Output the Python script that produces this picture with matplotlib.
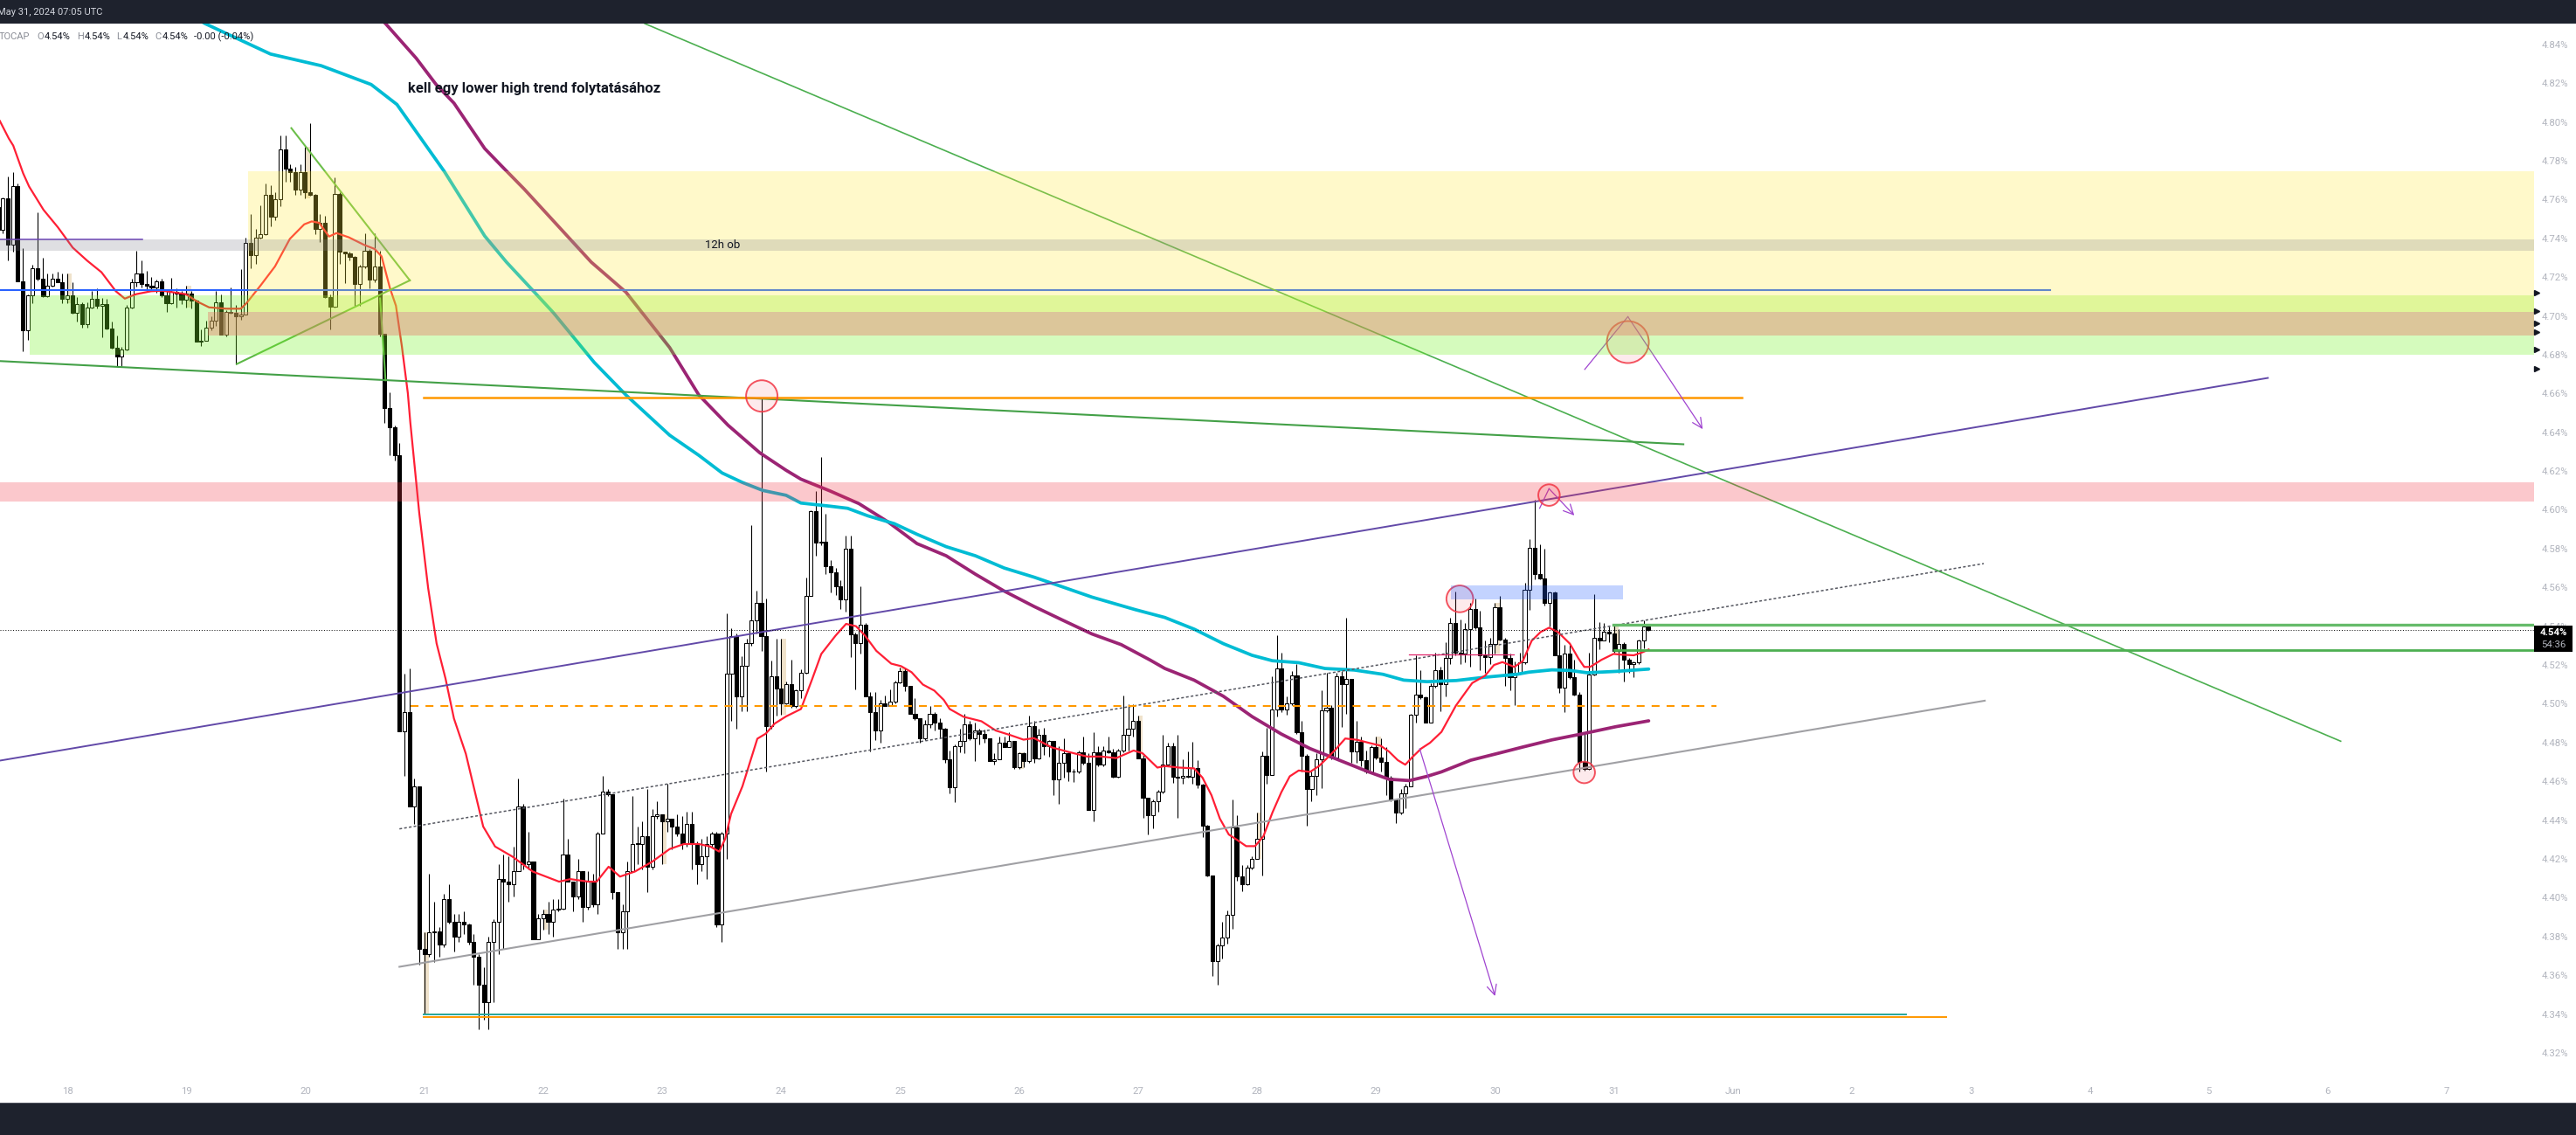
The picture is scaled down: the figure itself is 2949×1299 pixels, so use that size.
import numpy as np
import matplotlib
matplotlib.use("Agg")
import matplotlib.pyplot as plt
from matplotlib.patches import Rectangle
from matplotlib.transforms import blended_transform_factory

plt.rcParams['font.family'] = ['Roboto', 'DejaVu Sans']

W, H = 2949, 1299
DPI = 100

# ---------------------------------------------------------------- data
# hourly candles; hour 0 = May 18 00:00 UTC, first bar at hour -14
first_hour = -14
first_open = 4.7562
close = [
    4.7442, 4.7607, 4.7367, 4.7671, 4.7180, 4.6927, 4.7104, 4.7247, 4.7190, 4.7100, 4.7154, 4.7190,
    4.7175, 4.7089, 4.7104, 4.7014, 4.7062, 4.6959, 4.7041, 4.7089, 4.7052, 4.7062, 4.6936, 4.6837,
    4.6789, 4.6827, 4.7044, 4.7172, 4.7220, 4.7164, 4.7157, 4.7145, 4.7180, 4.7104, 4.7067, 4.7122,
    4.7115, 4.7085, 4.7115, 4.7077, 4.6869, 4.6872, 4.6939, 4.6977, 4.7070, 4.6902, 4.7022, 4.7014,
    4.6996, 4.7007, 4.7375, 4.7315, 4.7405, 4.7420, 4.7625, 4.7513, 4.7603, 4.7858, 4.7761, 4.7740,
    4.7653, 4.7740, 4.7638, 4.7623, 4.7450, 4.7480, 4.7097, 4.7047, 4.7627, 4.7330, 4.7322, 4.7304,
    4.7164, 4.7255, 4.7337, 4.7187, 4.7255, 4.6909, 4.6527, 4.6424, 4.6281, 4.4859, 4.4955, 4.4471,
    4.4574, 4.3734, 4.3708, 4.3824, 4.3826, 4.3760, 4.3992, 4.3876, 4.3798, 4.3876, 4.3863, 4.3773,
    4.3695, 4.3553, 4.3462, 4.3773, 4.3876, 4.4096, 4.4083, 4.4070, 4.4135, 4.4471, 4.4173, 4.4186,
    4.3786, 4.3894, 4.3915, 4.3876, 4.3941, 4.3943, 4.4225, 4.4083, 4.4005, 4.4135, 4.3954, 4.4083,
    4.3967, 4.4329, 4.4548, 4.4535, 4.4031, 4.3824, 4.3928, 4.4135, 4.4277, 4.4279, 4.4316, 4.4160,
    4.4419, 4.4432, 4.4393, 4.4406, 4.4368, 4.4329, 4.4277, 4.4380, 4.4277, 4.4173, 4.4212, 4.4277,
    4.4329, 4.3863, 4.4329, 4.5156, 4.5350, 4.5040, 4.5195, 4.5311, 4.5428, 4.5518, 4.5350, 4.4885,
    4.5143, 4.5080, 4.5004, 4.5099, 4.4989, 4.5068, 4.5159, 4.5558, 4.5992, 4.5830, 4.5834, 4.5708,
    4.5676, 4.5605, 4.5539, 4.5798, 4.5360, 4.5313, 4.5407, 4.5036, 4.4957, 4.4862, 4.5004, 4.4989,
    4.5012, 4.5112, 4.5170, 4.5091, 4.4949, 4.4925, 4.4823, 4.4894, 4.4949, 4.4902, 4.4870, 4.4712,
    4.4570, 4.4783, 4.4807, 4.4894, 4.4823, 4.4862, 4.4846, 4.4823, 4.4704, 4.4712, 4.4799, 4.4775,
    4.4807, 4.4672, 4.4744, 4.4704, 4.4886, 4.4720, 4.4838, 4.4783, 4.4807, 4.4609, 4.4696, 4.4744,
    4.4649, 4.4653, 4.4751, 4.4696, 4.4451, 4.4751, 4.4688, 4.4759, 4.4751, 4.4625, 4.4759, 4.4838,
    4.4870, 4.4910, 4.4720, 4.4514, 4.4427, 4.4498, 4.4546, 4.4688, 4.4783, 4.4625, 4.4617, 4.4626,
    4.4622, 4.4671, 4.4581, 4.4371, 4.4116, 4.3673, 4.3755, 4.3793, 4.3913, 4.4363, 4.4108, 4.4071,
    4.4153, 4.4198, 4.4303, 4.4731, 4.4634, 4.4972, 4.5182, 4.4972, 4.5002, 4.5147, 4.4852, 4.4731,
    4.4559, 4.4626, 4.4716, 4.4964, 4.4979, 4.4724, 4.5144, 4.5099, 4.5129, 4.4754, 4.4806, 4.4709,
    4.4649, 4.4776, 4.4724, 4.4701, 4.4619, 4.4506, 4.4439, 4.4536, 4.4574, 4.4942, 4.5047, 4.5032,
    4.4904, 4.5092, 4.5174, 4.5100, 4.5235, 4.5415, 4.5265, 4.5257, 4.5385, 4.5490, 4.5392, 4.5250,
    4.5242, 4.5310, 4.5498, 4.5332, 4.5235, 4.5137, 4.5160, 4.5212, 4.5588, 4.5805, 4.5670, 4.5648,
    4.5520, 4.5573, 4.5250, 4.5085, 4.5257, 4.5137, 4.5047, 4.4702, 4.4664, 4.5152, 4.5340, 4.5328,
    4.5373, 4.5362, 4.5272, 4.5310, 4.5227, 4.5205, 4.5212, 4.5325, 4.5400, 4.5382,
]
high = [
    4.7600, 4.7610, 4.7720, 4.7743, 4.7683, 4.7348, 4.7112, 4.7262, 4.7535, 4.7300, 4.7217, 4.7220,
    4.7229, 4.7220, 4.7220, 4.7172, 4.7097, 4.7071, 4.7070, 4.7127, 4.7142, 4.7092, 4.7089, 4.6969,
    4.6899, 4.6842, 4.7055, 4.7190, 4.7334, 4.7285, 4.7232, 4.7202, 4.7187, 4.7190, 4.7127, 4.7195,
    4.7142, 4.7127, 4.7157, 4.7127, 4.7082, 4.6932, 4.6977, 4.6999, 4.7127, 4.7112, 4.7029, 4.7145,
    4.7055, 4.7240, 4.7405, 4.7525, 4.7450, 4.7570, 4.7683, 4.7675, 4.7638, 4.7930, 4.7930, 4.7780,
    4.7770, 4.7780, 4.7870, 4.7995, 4.7630, 4.7525, 4.7514, 4.7112, 4.7716, 4.7638, 4.7325, 4.7330,
    4.7307, 4.7262, 4.7427, 4.7345, 4.7427, 4.7337, 4.6909, 4.6605, 4.6436, 4.6346, 4.5156, 4.5182,
    4.4613, 4.4574, 4.3824, 4.4122, 4.3979, 4.3850, 4.4018, 4.4070, 4.3915, 4.3915, 4.3928, 4.3868,
    4.3811, 4.3708, 4.3643, 4.3799, 4.3889, 4.4173, 4.4225, 4.4212, 4.4264, 4.4613, 4.4484, 4.4341,
    4.4186, 4.3915, 4.3941, 4.3979, 4.3992, 4.3992, 4.4510, 4.4303, 4.4083, 4.4199, 4.4135, 4.4135,
    4.4122, 4.4341, 4.4626, 4.4561, 4.4535, 4.4031, 4.3967, 4.4186, 4.4523, 4.4368, 4.4393, 4.4561,
    4.4458, 4.4497, 4.4432, 4.4587, 4.4406, 4.4432, 4.4419, 4.4445, 4.4445, 4.4290, 4.4303, 4.4316,
    4.4341, 4.4341, 4.4341, 4.5467, 4.5389, 4.5363, 4.5247, 4.5337, 4.5919, 4.5583, 4.6579, 4.5544,
    4.5221, 4.5336, 4.5336, 4.5115, 4.5226, 4.5076, 4.5178, 4.5653, 4.5996, 4.6095, 4.6272, 4.5980,
    4.5739, 4.5700, 4.5637, 4.5866, 4.5866, 4.5368, 4.5608, 4.5415, 4.5060, 4.5060, 4.5020, 4.5044,
    4.5076, 4.5118, 4.5186, 4.5186, 4.5091, 4.5028, 4.4925, 4.4917, 4.4989, 4.4957, 4.4925, 4.4878,
    4.4759, 4.4791, 4.4870, 4.4949, 4.4910, 4.4902, 4.4870, 4.4865, 4.4823, 4.4744, 4.4831, 4.4831,
    4.4854, 4.4807, 4.4751, 4.4751, 4.4941, 4.4910, 4.4870, 4.4878, 4.4815, 4.4807, 4.4783, 4.4823,
    4.4751, 4.4665, 4.4759, 4.4831, 4.4744, 4.4854, 4.4783, 4.4783, 4.4831, 4.4767, 4.4767, 4.5044,
    4.4997, 4.4997, 4.4941, 4.4736, 4.4514, 4.4506, 4.4554, 4.4838, 4.4799, 4.4799, 4.4838, 4.4716,
    4.4754, 4.4806, 4.4709, 4.4589, 4.4378, 4.4116, 4.3763, 4.3875, 4.3935, 4.4506, 4.4424, 4.4168,
    4.4168, 4.4213, 4.4439, 4.4754, 4.4874, 4.5144, 4.5355, 4.5264, 4.5039, 4.5167, 4.5204, 4.4912,
    4.4739, 4.4649, 4.4746, 4.5069, 4.5159, 4.4994, 4.5159, 4.5167, 4.5445, 4.5129, 4.4912, 4.4829,
    4.4761, 4.4784, 4.4829, 4.4821, 4.4776, 4.4626, 4.4506, 4.4559, 4.4589, 4.4949, 4.5249, 4.5174,
    4.5039, 4.5107, 4.5264, 4.5190, 4.5317, 4.5445, 4.5580, 4.5433, 4.5415, 4.5520, 4.5543, 4.5478,
    4.5325, 4.5340, 4.5520, 4.5558, 4.5340, 4.5257, 4.5220, 4.5265, 4.5625, 4.5850, 4.6053, 4.5820,
    4.5798, 4.5580, 4.5580, 4.5385, 4.5302, 4.5302, 4.5227, 4.5062, 4.4852, 4.5265, 4.5565, 4.5422,
    4.5415, 4.5400, 4.5407, 4.5385, 4.5317, 4.5235, 4.5220, 4.5332, 4.5430, 4.5407,
]
low = [
    4.7420, 4.7427, 4.7285, 4.7330, 4.7180, 4.6819, 4.6875, 4.7067, 4.7183, 4.7097, 4.7097, 4.7149,
    4.7172, 4.7067, 4.7067, 4.7010, 4.6969, 4.6939, 4.6939, 4.7040, 4.7037, 4.6891, 4.6932, 4.6830,
    4.6739, 4.6739, 4.6824, 4.7037, 4.7149, 4.7145, 4.7127, 4.7127, 4.7119, 4.7097, 4.7022, 4.7059,
    4.7044, 4.7059, 4.7044, 4.7037, 4.6869, 4.6845, 4.6894, 4.6924, 4.6947, 4.6902, 4.6894, 4.7010,
    4.6751, 4.6980, 4.7007, 4.7247, 4.7270, 4.7397, 4.7416, 4.7460, 4.7495, 4.7565, 4.7690, 4.7690,
    4.7626, 4.7623, 4.7607, 4.7620, 4.7420, 4.7382, 4.7094, 4.6932, 4.7044, 4.7270, 4.7169, 4.7285,
    4.7052, 4.7052, 4.7247, 4.7142, 4.7172, 4.6894, 4.6449, 4.6281, 4.6255, 4.4859, 4.4626, 4.4471,
    4.4380, 4.3656, 4.3398, 4.3695, 4.3669, 4.3695, 4.3747, 4.3868, 4.3721, 4.3773, 4.3811, 4.3760,
    4.3553, 4.3320, 4.3372, 4.3320, 4.3462, 4.3708, 4.3734, 4.3979, 4.4005, 4.4135, 4.4147, 4.4147,
    4.3786, 4.3786, 4.3837, 4.3811, 4.3799, 4.3928, 4.3941, 4.4083, 4.3928, 4.3992, 4.3876, 4.3941,
    4.3954, 4.3915, 4.4329, 4.4523, 4.3992, 4.3734, 4.3734, 4.3734, 4.4135, 4.4173, 4.4147, 4.4031,
    4.4147, 4.4406, 4.4173, 4.4341, 4.4251, 4.4316, 4.4251, 4.4264, 4.4147, 4.4070, 4.4135, 4.4096,
    4.4264, 4.3850, 4.3773, 4.4199, 4.4911, 4.4872, 4.4962, 4.4962, 4.5299, 4.5363, 4.5273, 4.4652,
    4.4872, 4.4941, 4.4944, 4.4997, 4.4981, 4.4981, 4.5028, 4.5155, 4.5558, 4.5763, 4.5818, 4.5668,
    4.5573, 4.5561, 4.5487, 4.5476, 4.5242, 4.5076, 4.5257, 4.5036, 4.4755, 4.4815, 4.4799, 4.4989,
    4.4989, 4.5004, 4.5107, 4.5064, 4.4949, 4.4917, 4.4799, 4.4815, 4.4878, 4.4862, 4.4823, 4.4696,
    4.4538, 4.4491, 4.4751, 4.4744, 4.4815, 4.4704, 4.4791, 4.4799, 4.4704, 4.4688, 4.4728, 4.4775,
    4.4775, 4.4664, 4.4664, 4.4672, 4.4696, 4.4696, 4.4712, 4.4736, 4.4728, 4.4530, 4.4483, 4.4617,
    4.4601, 4.4597, 4.4641, 4.4688, 4.4451, 4.4396, 4.4680, 4.4680, 4.4744, 4.4617, 4.4617, 4.4751,
    4.4759, 4.4831, 4.4720, 4.4412, 4.4325, 4.4356, 4.4443, 4.4538, 4.4680, 4.4593, 4.4412, 4.4589,
    4.4619, 4.4589, 4.4566, 4.4311, 4.4108, 4.3598, 4.3552, 4.3688, 4.3763, 4.3840, 4.4086, 4.4033,
    4.4063, 4.4146, 4.4198, 4.4116, 4.4589, 4.4634, 4.4934, 4.4957, 4.4942, 4.4994, 4.4844, 4.4649,
    4.4371, 4.4499, 4.4529, 4.4566, 4.4957, 4.4716, 4.4716, 4.4882, 4.4949, 4.4694, 4.4694, 4.4679,
    4.4641, 4.4641, 4.4716, 4.4649, 4.4529, 4.4499, 4.4386, 4.4431, 4.4461, 4.4574, 4.4904, 4.5024,
    4.4904, 4.4904, 4.5084, 4.4960, 4.5040, 4.5205, 4.5250, 4.5205, 4.5212, 4.5190, 4.5385, 4.5175,
    4.5160, 4.5205, 4.5257, 4.5325, 4.5092, 4.5070, 4.4994, 4.5152, 4.5205, 4.5482, 4.5640, 4.5640,
    4.5505, 4.5400, 4.5250, 4.5055, 4.4957, 4.5130, 4.5043, 4.4649, 4.4657, 4.4660, 4.5145, 4.5283,
    4.5325, 4.5317, 4.5265, 4.5160, 4.5115, 4.5160, 4.5137, 4.5205, 4.5287, 4.5377,
]

# moving averages (hour, value)
ma_fast_h = [-13.6, -11.8, -10.9, -8.9, -7.7, -4.8, -1.9, 1.1, 4.0, 6.9, 9.8, 11.6, 13.9, 16.9, 19.2,
             23.9, 26.2, 28.6, 32.1, 35.0, 36.2, 39.0, 41.9, 44.9, 47.8, 49.3, 50.8, 52.8, 54.3, 56.8,
             59.8, 62.0, 63.4, 65.1, 66.3, 67.5, 68.7, 69.2, 71.0, 72.8, 74.5, 76.3, 78.0, 80.4, 83.9,
             86.3, 89.8, 93.9, 99.2, 101.5, 105.1, 106.8, 109.2, 111.5, 114.5, 118.0, 121.5, 124.4,
             127.4, 129.7, 131.5, 132.7, 133.9, 136.2, 139.2, 140.9, 142.7, 145.0, 148.0, 150.3, 152.1,
             155.0, 157.1, 159.1, 160.9, 163.2, 166.2, 168.2, 170.3, 172.6, 174.9, 176.8, 178.0, 180.8,
             184.4, 187.3, 190.3, 192.9, 195.0, 198.6, 202.1, 205.7, 208.6, 211.6, 215.1, 216.9, 219.9,
             221.4, 224.3, 227.3, 229.0, 230.8, 232.5, 234.3, 236.1, 237.8, 239.6, 241.3, 243.1, 244.9,
             246.6, 248.4, 250.7, 252.5, 254.3, 256.0, 257.8, 260.2, 262.5, 264.9, 266.6, 268.4, 269.9,
             271.3, 273.1, 274.9, 277.2, 280.1, 283.4, 286.0, 287.8, 289.5, 291.9, 293.6, 295.4, 297.2,
             298.9, 300.7, 303.1, 304.8, 306.0, 307.2, 309.5, 311.9, 313.6, 316.0, 317.7, 319.0]
ma_fast_v = [4.8005, 4.7915, 4.7878, 4.7735, 4.7667, 4.7547, 4.7457, 4.7352, 4.7285, 4.7225, 4.7127,
             4.7089, 4.7112, 4.7127, 4.7130, 4.7112, 4.7074, 4.7044, 4.7037, 4.7037, 4.7067, 4.7157,
             4.7255, 4.7397, 4.7472, 4.7487, 4.7480, 4.7409, 4.7427, 4.7405, 4.7367, 4.7345, 4.7307,
             4.7142, 4.7052, 4.6842, 4.6601, 4.6450, 4.5984, 4.5596, 4.5311, 4.5130, 4.4924, 4.4742,
             4.4367, 4.4264, 4.4212, 4.4135, 4.4083, 4.4096, 4.4083, 4.4083, 4.4160, 4.4109, 4.4135,
             4.4186, 4.4251, 4.4277, 4.4277, 4.4264, 4.4238, 4.4303, 4.4432, 4.4575, 4.4820, 4.4846,
             4.4898, 4.4935, 4.4973, 4.5130, 4.5257, 4.5352, 4.5412, 4.5400, 4.5352, 4.5273, 4.5207,
             4.5194, 4.5163, 4.5099, 4.5068, 4.5020, 4.4973, 4.4933, 4.4910, 4.4862, 4.4838, 4.4815,
             4.4823, 4.4775, 4.4751, 4.4728, 4.4728, 4.4720, 4.4759, 4.4745, 4.4671, 4.4679, 4.4671,
             4.4667, 4.4619, 4.4529, 4.4408, 4.4326, 4.4296, 4.4266, 4.4266, 4.4318, 4.4439, 4.4544,
             4.4626, 4.4656, 4.4649, 4.4679, 4.4724, 4.4769, 4.4821, 4.4814, 4.4799, 4.4784, 4.4754,
             4.4709, 4.4686, 4.4724, 4.4769, 4.4799, 4.4855, 4.4990, 4.5107, 4.5145, 4.5200, 4.5215,
             4.5190, 4.5220, 4.5325, 4.5370, 4.5392, 4.5370, 4.5310, 4.5235, 4.5190, 4.5190, 4.5227,
             4.5257, 4.5253, 4.5250, 4.5265, 4.5280]

ma_mid_h = [20.0, 27.8, 41.0, 51.2, 61.3, 66.5, 76.1, 84.2, 88.6, 93.3, 98.0, 106.3, 112.7, 121.5, 127.4,
            132.1, 136.2, 140.3, 145.0, 148.0, 153.8, 157.4, 161.5, 166.8, 171.4, 177.3, 183.2, 189.0,
            195.0, 199.6, 206.7, 215.5, 221.4, 227.3, 233.2, 239.0, 243.1, 248.4, 253.7, 259.6, 265.4,
            269.6, 274.3, 280.2, 286.0, 292.4, 294.8, 299.5, 303.1, 306.6, 312.4, 319.0]
ma_mid_v = [4.8620, 4.8507, 4.8350, 4.8290, 4.8193, 4.8090, 4.7743, 4.7412, 4.7277, 4.7148, 4.7018,
            4.6760, 4.6592, 4.6385, 4.6281, 4.6190, 4.6141, 4.6100, 4.6075, 4.6035, 4.6019, 4.6008,
            4.5969, 4.5929, 4.5874, 4.5810, 4.5763, 4.5700, 4.5653, 4.5613, 4.5550, 4.5485, 4.5445,
            4.5385, 4.5310, 4.5250, 4.5222, 4.5212, 4.5182, 4.5174, 4.5152, 4.5122, 4.5114, 4.5120,
            4.5137, 4.5152, 4.5163, 4.5175, 4.5172, 4.5160, 4.5167, 4.5179]

ma_slow_h = [58.0, 64.2, 70.4, 74.4, 78.0, 84.2, 87.6, 92.2, 105.7, 112.7, 121.5, 127.4, 133.3, 139.7,
             145.0, 148.0, 153.8, 159.7, 165.6, 171.4, 177.3, 183.2, 189.0, 195.0, 200.8, 206.7, 212.6,
             218.4, 221.4, 227.3, 233.2, 239.0, 244.9, 250.7, 256.6, 262.5, 266.6, 270.7, 274.3, 277.2,
             283.1, 289.0, 293.6, 299.5, 305.4, 312.4, 319.0]
ma_slow_v = [4.8650, 4.8507, 4.8328, 4.8193, 4.8097, 4.7863, 4.7773, 4.7653, 4.7277, 4.7122, 4.6837,
             4.6592, 4.6436, 4.6294, 4.6204, 4.6158, 4.6098, 4.6032, 4.5937, 4.5826, 4.5763, 4.5668,
             4.5581, 4.5502, 4.5431, 4.5360, 4.5305, 4.5226, 4.5182, 4.5122, 4.5039, 4.4934, 4.4844,
             4.4769, 4.4709, 4.4649, 4.4611, 4.4604, 4.4626, 4.4649, 4.4709, 4.4747, 4.4777, 4.4814,
             4.4844, 4.4882, 4.4912]

# axis labels
day_ticks = list(range(0, 481, 24))
day_labels = ['18', '19', '20', '21', '22', '23', '24', '25', '26', '27', '28', '29', '30', '31',
              'Jun', '2', '3', '4', '5', '6', '7']
price_ticks = [round(4.32 + 0.02 * i, 2) for i in range(27)]

# ---------------------------------------------------------------- figure
fig = plt.figure(figsize=(W / DPI, H / DPI), dpi=DPI, facecolor='white')
AX_RIGHT, AX_TOP, AX_BOTTOM = 2901, 27, 1235
ax = fig.add_axes([0, (H - AX_BOTTOM) / H, AX_RIGHT / W, (AX_BOTTOM - AX_TOP) / H])
ax.set_facecolor('white')
X0, X1 = -13.57, 497.6
Y0, Y1 = 4.3065, 4.8507
ax.set_xlim(X0, X1)
ax.set_ylim(Y0, Y1)
for s in ax.spines.values():
    s.set_visible(False)

ax.set_xticks(day_ticks)
ax.set_xticklabels(day_labels)
ax.yaxis.tick_right()
ax.set_yticks(price_ticks)
ax.set_yticklabels([f"{v:.2f}%" for v in price_ticks])
ax.tick_params(axis='x', length=0, pad=6.3, labelsize=8.2, labelcolor='#b2b5be')
ax.tick_params(axis='y', length=0, pad=6.3, labelsize=8.2, labelcolor='#b2b5be')
for t in ax.get_yticklabels():
    t.set_horizontalalignment('left')

# ---------------------------------------------------------------- candles
c = np.array(close)
h = np.array(high)
l = np.array(low)
o = np.r_[first_open, c[:-1]]
h = np.maximum(h, np.maximum(o, c))
l = np.minimum(l, np.minimum(o, c))
x = np.arange(first_hour, first_hour + len(c))
up = c >= o
body_lo = np.minimum(o, c)
body_h = np.maximum(np.abs(c - o), 0.0004)

# session-open highlight behind the midnight bars
for xi, hi, lo in zip(x, h, l):
    if xi % 24 == 0:
        ax.add_patch(Rectangle((xi - 0.05, lo), 1.0, hi - lo, facecolor='#efe2cb',
                               edgecolor='none', zorder=1))

ax.vlines(x, l, h, color='black', lw=0.8, zorder=2)
ax.bar(x[up], body_h[up], 0.72, body_lo[up], color='white', edgecolor='black', lw=0.75, zorder=3)
ax.bar(x[~up], body_h[~up], 0.72, body_lo[~up], color='black', edgecolor='black', lw=0.75, zorder=3)

# ---------------------------------------------------------------- moving averages
ax.plot(ma_slow_h, ma_slow_v, color='#9b2474', lw=2.7, zorder=4, solid_capstyle='round')
ax.plot(ma_mid_h, ma_mid_v, color='#00bcd4', lw=2.7, zorder=4, solid_capstyle='round')
ax.plot(ma_fast_h, ma_fast_v, color='#ff1f35', lw=1.6, zorder=4)

# ---------------------------------------------------------------- drawings
ax.plot([-13.6, 400.0], [4.7134, 4.7134], color='#2962ff', lw=1.5, zorder=4)
ax.plot([-13.6, 15.2], [4.7393, 4.7393], color='#673ab7', lw=1.1, zorder=4)
ax.plot([116.5, 458.6], [4.8507, 4.4807], color='#4caf50', lw=1.2, zorder=4)
ax.plot([-13.6, 326.0], [4.6767, 4.6338], color='#43a047', lw=1.5, zorder=4)
ax.plot([45.2, 69.1], [4.7968, 4.7183], color='#6cbf4a', lw=1.5, zorder=4)
ax.plot([34.2, 69.1], [4.6752, 4.7183], color='#5cb845', lw=1.5, zorder=4)
ax.plot([63.1, 64.2], [4.7090, 4.6668], color='#5cb845', lw=1.5, zorder=4)
ax.plot([71.9, 337.8], [4.6577, 4.6577], color='#ff9800', lw=1.8, zorder=4)
ax.plot([-13.6, 443.9], [4.4707, 4.6680], color='#6249a8', lw=1.4, zorder=4)
ax.plot([67.0, 386.6], [4.4355, 4.5723], color='#555760', lw=1.1, ls=(0, (2, 1.6)), zorder=4)
ax.plot([67.0, 386.8], [4.3644, 4.5016], color='#a0a0a4', lw=1.5, zorder=4)
ax.plot([69.3, 332.7], [4.4990, 4.4990], color='#ff9800', lw=1.45, ls=(0, (4.5, 4)), zorder=4)
ax.plot([71.9, 370.9], [4.3400, 4.3400], color='#26a69a', lw=1.4, zorder=4)
ax.plot([71.9, 379.0], [4.3386, 4.3386], color='#ff9800', lw=1.4, zorder=4)
ax.plot([270.7, 291.8], [4.5253, 4.5253], color='#e0246a', lw=0.9, zorder=4)
ax.plot([311.8, X1], [4.5407, 4.5407], color='#66bb6a', lw=2.4, zorder=4)
ax.plot([312.0, X1], [4.5275, 4.5275], color='#4caf50', lw=2.0, zorder=4)

# current price line
ax.axhline(c[-1], color='black', lw=0.7, ls=(0, (1, 2)), zorder=4)

# violet arrows
VIOLET = '#a044d0'
arrow_kw = dict(arrowstyle='->,head_length=0.45,head_width=0.22', color=VIOLET, lw=0.9,
                shrinkA=0, shrinkB=0, mutation_scale=18)
ax.plot([306.1, 314.8], [4.6724, 4.6996], color=VIOLET, lw=0.9, zorder=5)
ax.annotate('', xy=(329.9, 4.6416), xytext=(314.8, 4.6996), arrowprops=arrow_kw, zorder=5)
ax.plot([297.0, 298.9], [4.6008, 4.6109], color=VIOLET, lw=0.9, zorder=5)
ax.annotate('', xy=(304.0, 4.5971), xytext=(298.9, 4.6109), arrowprops=arrow_kw, zorder=5)
ax.annotate('', xy=(288.0, 4.3493), xytext=(272.8, 4.4769), arrowprops=arrow_kw, zorder=5)

# circled points
circ_h = [140.1, 314.8, 298.9, 280.9, 306.0]
circ_p = [4.6587, 4.6865, 4.6076, 4.5541, 4.4646]
circ_r = [18, 24, 12.3, 15.3, 12.3]
ax.scatter(circ_h, circ_p, s=[(2 * r * 0.72) ** 2 for r in circ_r],
           facecolor=(0.95, 0.21, 0.27, 0.10), edgecolor=(0.95, 0.21, 0.27, 0.85),
           linewidths=1.4, zorder=5)

# ---------------------------------------------------------------- zones (translucent, on top)
def zone(x_start, lo, hi, rgba):
    ax.add_patch(Rectangle((x_start, lo), X1 - x_start, hi - lo, facecolor=rgba,
                           edgecolor='none', zorder=8))

zone(-7.6, 4.6800, 4.7105, (118 / 255, 245 / 255, 38 / 255, 0.30))
zone(36.4, 4.7020, 4.7746, (1.0, 235 / 255, 59 / 255, 0.27))
zone(28.3, 4.6900, 4.7020, (231 / 255, 120 / 255, 103 / 255, 0.40))
zone(X0, 4.7334, 4.7396, (128 / 255, 130 / 255, 140 / 255, 0.25))
zone(X0, 4.6043, 4.6141, (242 / 255, 54 / 255, 69 / 255, 0.27))
ax.add_patch(Rectangle((279.1, 4.5540), 313.8 - 279.1, 4.5610 - 4.5540,
                       facecolor=(41 / 255, 98 / 255, 1.0, 0.28), edgecolor='none', zorder=8))

# zone edge markers on the price scale
edge_marks = [4.7120, 4.7025, 4.6963, 4.6917, 4.6825, 4.6727]
trans = blended_transform_factory(ax.transAxes, ax.transData)
ax.plot([1.0 + 3.0 / AX_RIGHT] * len(edge_marks), edge_marks, ls='none', marker='>',
        ms=5, color='#131722', transform=trans, clip_on=False, zorder=9)

# annotations
ax.text(128.6, 4.7366, '12h ob', fontsize=9.5, color='#131722', va='center', ha='left', zorder=10)
ax.text(68.7, 4.8170, 'kell egy lower high trend folytatásához', fontsize=12, fontweight='bold',
        color='#131722', va='center', ha='left', zorder=10)

# ---------------------------------------------------------------- chrome
fig.add_artist(Rectangle((0, 1 - 27 / H), 1, 27 / H, transform=fig.transFigure,
                         facecolor='#1e222d', edgecolor='none', zorder=20))
fig.add_artist(Rectangle((0, 0), 1, 36 / H, transform=fig.transFigure,
                         facecolor='#1e222d', edgecolor='none', zorder=20))
fig.add_artist(Rectangle((0, 36 / H), 1, 1.5 / H, transform=fig.transFigure,
                         facecolor='#50535e', edgecolor='none', zorder=20))
fig.text(-3 / W, 1 - 14 / H, 'May 31, 2024 07:05 UTC', color='#d1d4dc', fontsize=8,
         va='center', ha='left', zorder=21)

renderer = fig.canvas.get_renderer()


def text_run(pieces, x_px, y_px, size):
    xp = x_px
    for s, col, gap in pieces:
        t = fig.text(xp / W, 1 - y_px / H, s, color=col, fontsize=size, va='center',
                     ha='left', zorder=21)
        xp += t.get_window_extent(renderer=renderer).width + gap


GRAY, DARK = '#8a8d96', '#131722'
fmt = lambda v: f"{v:.2f}%"
chg = c[-1] - c[-2]
text_run([('TOCAP', GRAY, 8), ('O', GRAY, 1), (fmt(o[-1]), DARK, 7), ('H', GRAY, 1),
          (fmt(h[-1]), DARK, 7), ('L', GRAY, 1), (fmt(l[-1]), DARK, 7), ('C', GRAY, 1),
          (fmt(c[-1]), DARK, 7),
          (f"{chg:+.2f} ({chg / c[-2] * 100:+.2f}%)".replace('+0.00', '-0.00'), DARK, 0)],
         -1, 42, 8)

# last price tag on the price scale
y_last = H - ax.transData.transform((0, c[-1]))[1]
fig.add_artist(Rectangle((AX_RIGHT / W, 1 - (y_last + 25) / H), 44 / W, 30 / H,
                         transform=fig.transFigure, facecolor='black', edgecolor='none', zorder=21))
fig.text((AX_RIGHT + 22) / W, 1 - (y_last + 3) / H, fmt(c[-1]), color='white', fontsize=8.2,
         fontweight='bold', va='center', ha='center', zorder=22)
fig.text((AX_RIGHT + 22) / W, 1 - (y_last + 17) / H, '54:36', color='#b2b5be', fontsize=8.2,
         va='center', ha='center', zorder=22)

fig.savefig('out.png', dpi=DPI, facecolor='white')
